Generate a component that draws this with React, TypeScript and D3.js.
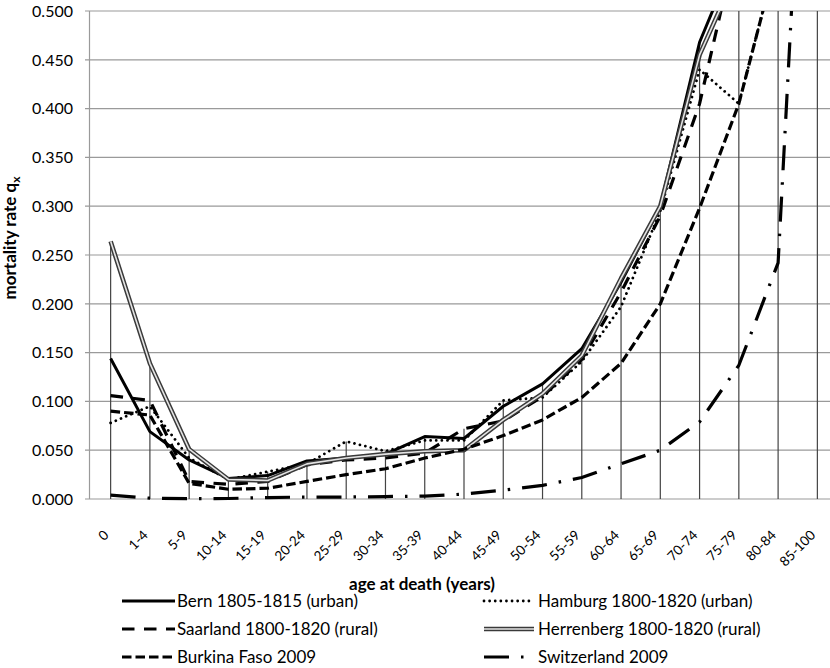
import React from 'react';
import * as d3 from 'd3';

const categories = ["0","1-4","5-9","10-14","15-19","20-24","25-29","30-34","35-39","40-44","45-49","50-54","55-59","60-64","65-69","70-74","75-79","80-84","85-100"];
const bern =        [0.144,0.069,0.040,0.021,0.024,0.039,0.042,0.046,0.064,0.062,0.095,0.118,0.154,0.222,0.300,0.468,0.565,0.750,1.0];
const hamburg =     [0.078,0.095,0.042,0.020,0.028,0.036,0.059,0.049,0.060,0.060,0.101,0.104,0.141,0.197,0.295,0.440,0.405,0.560,1.0];
const saarland =    [0.106,0.101,0.018,0.015,0.018,0.035,0.040,0.042,0.047,0.072,0.080,0.105,0.143,0.212,0.290,0.405,0.580,0.750,1.0];
const herrenberg =  [0.264,0.139,0.051,0.020,0.019,0.036,0.042,0.046,0.049,0.050,0.081,0.108,0.147,0.226,0.300,0.455,0.545,0.750,1.0];
const burkina =     [0.090,0.086,0.016,0.010,0.011,0.018,0.025,0.031,0.042,0.051,0.065,0.081,0.104,0.139,0.200,0.298,0.405,0.560,1.0];
const switzerland = [0.004,0.0008,0.0004,0.0005,0.0015,0.002,0.002,0.0025,0.003,0.005,0.009,0.014,0.022,0.036,0.050,0.079,0.137,0.242,1.0];
const yTicks = [0, 0.05, 0.1, 0.15, 0.2, 0.25, 0.3, 0.35, 0.4, 0.45, 0.5];
const seriesNames = [
  "Bern 1805-1815 (urban)",
  "Hamburg 1800-1820 (urban)",
  "Saarland 1800-1820 (rural)",
  "Herrenberg 1800-1820 (rural)",
  "Burkina Faso 2009",
  "Switzerland 2009",
];
const seriesValues = [bern, hamburg, saarland, herrenberg, burkina, switzerland];

type Style = { stroke: string; width: number; dash?: string; cap?: string; inner?: string; innerWidth?: number };
const styles: Style[] = [
  { stroke: '#000', width: 3 },
  { stroke: '#000', width: 2.8, dash: '0.01 5.6', cap: 'round' },
  { stroke: '#000', width: 3.2, dash: '12.5 9.5' },
  { stroke: '#3a3a3a', width: 4.6, inner: '#e4e4e4', innerWidth: 1.6 },
  { stroke: '#000', width: 3.2, dash: '9.5 4' },
  { stroke: '#000', width: 3.2, dash: '25 12 2.5 12' },
];

const W = 830, H = 668;
const plotTop = 11, plotBottom = 499;
const FONT = 'Lato, "Open Sans", sans-serif';

export default function App() {
  const x = d3.scalePoint<string>().domain(categories).range([91, 837]).padding(0.5);
  const y = d3.scaleLinear().domain([0, 0.5]).range([plotBottom, plotTop]);
  const line = d3.line<number>().x((_, i) => x(categories[i]) as number).y(v => y(v));

  const legendRows = [601, 629, 657];
  const legendCols = [{ x1: 122, x2: 175, tx: 177 }, { x1: 484, x2: 534, tx: 538 }];

  const renderPath = (d: string, s: Style, key: string) => (
    <g key={key}>
      <path d={d} fill="none" stroke={s.stroke} strokeWidth={s.width}
        strokeDasharray={s.dash} strokeLinecap={(s.cap as any) || 'butt'} strokeLinejoin="round" />
      {s.inner && <path d={d} fill="none" stroke={s.inner} strokeWidth={s.innerWidth} strokeLinejoin="round" />}
    </g>
  );

  return (
    <svg width={W} height={H} style={{ position: 'absolute', left: 0, top: 0, background: '#fff' }} fontFamily={FONT}>
      <defs>
        <clipPath id="plotClip">
          <rect x={89} y={plotTop} width={W - 89} height={plotBottom - plotTop + 8} />
        </clipPath>
      </defs>
      <rect x={0} y={0} width={W} height={H} fill="#fff" />
      {/* gridlines */}
      {yTicks.map(t => (
        <line key={t} x1={85} x2={W} y1={y(t)} y2={y(t)} stroke="#9a9a9a" strokeWidth={1.2} />
      ))}
      {/* y axis */}
      <line x1={89.5} x2={89.5} y1={plotTop} y2={plotBottom} stroke="#9a9a9a" strokeWidth={1.2} />
      {/* drop lines */}
      {categories.map((c, i) => {
        const mx = Math.min(0.5, d3.max(seriesValues, s => s[i]) as number);
        return <line key={c} x1={x(c)} x2={x(c)} y1={y(mx)} y2={y(0)} stroke="#444" strokeWidth={1.2} />;
      })}
      {/* y tick labels */}
      {yTicks.map(t => (
        <text key={t} x={73} y={y(t)} dy="0.36em" textAnchor="end" fontSize={16} fill="#000">{d3.format('.3f')(t)}</text>
      ))}
      {/* series */}
      <g clipPath="url(#plotClip)">
        {seriesValues.map((vals, i) => renderPath(line(vals) as string, styles[i], 's' + i))}
      </g>
      {/* x tick labels */}
      {categories.map(c => (
        <text key={c} transform={`translate(${(x(c) as number) - 1},${536}) rotate(-45)`} textAnchor="end" fontSize={13.5} fill="#000">{c}</text>
      ))}
      {/* axis titles */}
      <text x={422} y={590} textAnchor="middle" fontSize={17} fontWeight="bold">age at death (years)</text>
      <text transform="translate(16,238) rotate(-90)" textAnchor="middle" fontSize={17} fontWeight="bold">
        mortality rate q<tspan fontSize={12} dy={4}>x</tspan>
      </text>
      {/* legend */}
      {seriesNames.map((name, i) => {
        const row = Math.floor(i / 2), col = i % 2;
        const ly = legendRows[row];
        const lc = legendCols[col];
        const d = d3.line()([[lc.x1, ly], [lc.x2, ly]]) as string;
        return (
          <g key={name}>
            {renderPath(d, styles[i], 'l' + i)}
            <text x={lc.tx} y={ly} dy="0.36em" fontSize={17} fill="#000">{name}</text>
          </g>
        );
      })}
    </svg>
  );
}
